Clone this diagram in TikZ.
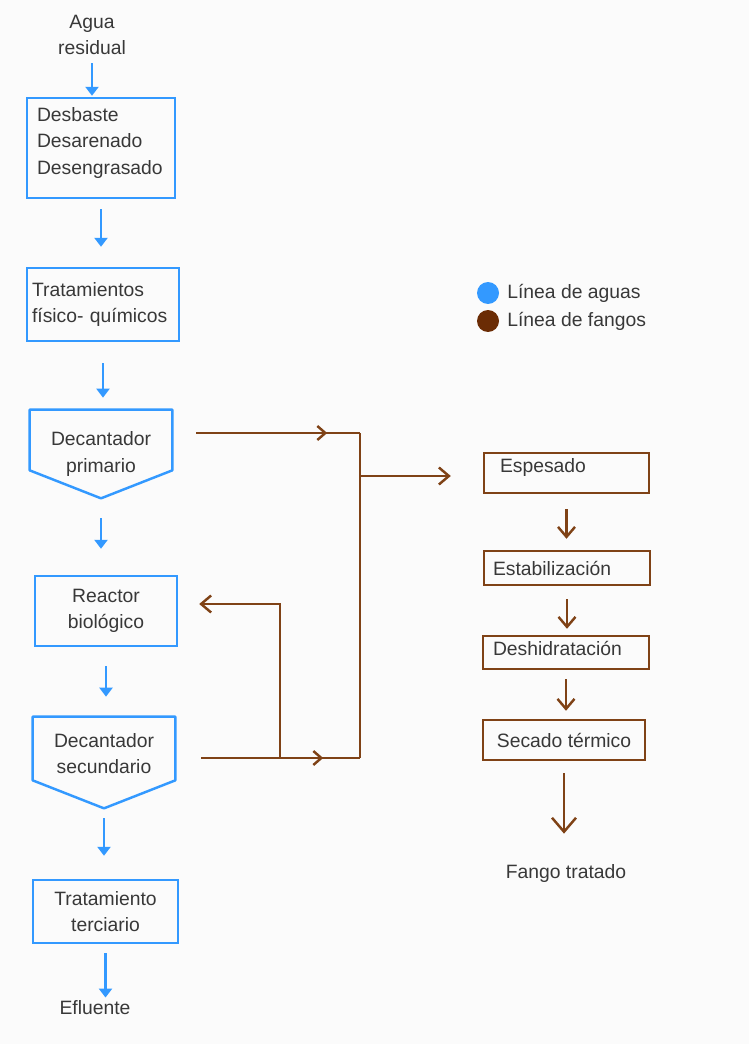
\documentclass[tikz,border=0pt]{standalone}
\usepackage{fontspec}
\setmainfont{Liberation Sans}
\usetikzlibrary{arrows.meta,calc,decorations.markings}
\definecolor{agua}{HTML}{3399FF}
\definecolor{fango}{HTML}{7F4216}
\definecolor{fangopunto}{HTML}{6B2C05}
\definecolor{texto}{HTML}{383838}
\definecolor{fondo}{HTML}{FBFBFB}

\begin{document}
\begin{tikzpicture}[x=0.02cm,y=0.02cm,
	font=\fontsize{11}{15}\selectfont, text=texto,
	cajaagua/.style={draw=agua,line width=1.4pt,rectangle,inner ysep=0pt},
	cajafango/.style={draw=fango,line width=1.4pt,rectangle,inner ysep=0pt},
	flechaagua/.style={draw=agua,line width=1.4pt,-{Triangle[length=1.8mm,width=2.6mm]}},
	lineafango/.style={draw=fango,line width=1.4pt},
	flechafango/.style={lineafango,-{Straight Barb[length=2mm,width=3.4mm]}},
	mitad/.style={postaction={decorate},decoration={markings,
		mark=at position #1 with {\arrow{Straight Barb[length=1.6mm,width=2.8mm]}}}},
	punto/.style={circle,inner sep=0pt,minimum size=4.4mm}]
	\fill[fondo] (0,0) rectangle (749,-1044);
	\useasboundingbox (0,0) rectangle (749,-1044);

	% linea de aguas
	\node[align=center,inner sep=0pt] (agua) at (92,-35) {Agua\\residual};
	\node[cajaagua,minimum width=29.6mm,minimum height=20mm,inner xsep=2mm,
		text width=25.6mm,align=left,text height=8pt,text depth=38pt] (desbaste) at (101,-148)
		{Desbaste\\Desarenado\\Desengrasado};
	\node[cajaagua,minimum width=30.4mm,minimum height=14.6mm,inner xsep=1mm,
		text width=28.4mm,align=left] (fisquim) at (103,-304.5)
		{Tratamientos\\físico- químicos};
	\node[minimum width=28.4mm,minimum height=17.6mm,inner sep=0pt,align=center] (decprim) at (101,-454)
		{Decantador\\primario};
	\draw[agua,line width=1.4pt,line join=round] (decprim.north west) -- (decprim.north east)
		-- ($(decprim.south east)+(0,28)$) -- (decprim.south) -- ($(decprim.south west)+(0,28)$) -- cycle;
	\node[cajaagua,minimum width=28.4mm,minimum height=14mm,align=center] (reactor) at (106,-611)
		{Reactor\\biológico};
	\node[minimum width=28.4mm,minimum height=18.2mm,inner sep=0pt,align=center,text depth=10pt] (decsec) at (104,-762.5)
		{Decantador\\secundario};
	\draw[agua,line width=1.4pt,line join=round] (decsec.north west) -- (decsec.north east)
		-- ($(decsec.south east)+(0,28)$) -- (decsec.south) -- ($(decsec.south west)+(0,28)$) -- cycle;
	\node[cajaagua,minimum width=29mm,minimum height=12.6mm,align=center] (terciario) at (105.5,-911.5)
		{Tratamiento\\terciario};
	\node[inner sep=0pt] (efluente) at (95,-1008) {Efluente};

	\draw[flechaagua,shorten <=1.6mm,shorten >=0.2mm] (agua.south) -- (agua.south |- desbaste.north);
	\draw[flechaagua,shorten <=2mm,shorten >=4mm] (desbaste.south) -- (desbaste.south |- fisquim.north);
	\draw[flechaagua,shorten <=4.2mm,shorten >=2.4mm] (fisquim.south) -- (fisquim.south |- decprim.north);
	\draw[flechaagua,shorten <=4mm,shorten >=5.2mm] (decprim.south) -- (decprim.south |- reactor.north);
	\draw[flechaagua,shorten <=3.8mm,shorten >=4mm] (reactor.south) -- (reactor.south |- decsec.north);
	\draw[flechaagua,shorten <=2mm,shorten >=4.6mm] (decsec.south) -- (decsec.south |- terciario.north);
	\draw[flechaagua,shorten <=1.8mm,shorten >=0.6mm] (terciario.south) -- (terciario.south |- efluente.north);

	% linea de fangos
	\node[cajafango,minimum width=33mm,minimum height=8mm,inner xsep=3.2mm,
		text width=26.6mm,align=left,text depth=8pt] (espesado) at (566.5,-473) {Espesado};
	\node[cajafango,minimum width=33.2mm,minimum height=6.8mm,inner xsep=1.8mm,
		text width=29.6mm,align=left] (estab) at (567,-568) {Estabilización};
	\node[cajafango,minimum width=33.2mm,minimum height=6.6mm,inner xsep=2mm,
		text width=29.2mm,align=left,text depth=5pt] (deshid) at (566,-652.5) {Deshidratación};
	\node[cajafango,minimum width=32.4mm,minimum height=8mm] (secado) at (564,-740) {Secado térmico};
	\node[inner sep=0pt] (fango) at (566,-873) {Fango tratado};

	\draw[flechafango,shorten <=3mm,shorten >=2.2mm] (espesado.south) -- (espesado.south |- estab.north);
	\draw[flechafango,shorten <=2.6mm,shorten >=1.2mm] (estab.south) -- (estab.south |- deshid.north);
	\draw[flechafango,shorten <=1.8mm,shorten >=1.6mm] (deshid.south) -- (deshid.south |- secado.north);
	\draw[lineafango,-{Straight Barb[length=2.8mm,width=4.8mm]},shorten <=2.4mm,shorten >=6mm]
		(secado.south) -- (secado.south |- fango.north);

	\coordinate (dpsal) at (196,-433);
	\coordinate (dssal) at (201,-758);
	\coordinate (j1) at (360,-433);
	\coordinate (j2) at (360,-758);
	\coordinate (j3) at (280,-758);
	\coordinate (j4) at (280,-604);
	\coordinate (jesp) at (360,-476);
	\draw[lineafango,mitad=0.8] (dpsal) -- (j1);
	\draw[lineafango] (j1) -- (j2);
	\draw[lineafango] (dssal) -- (j3);
	\draw[lineafango,mitad=0.54] (j3) -- (j2);
	\draw[flechafango,shorten >=4.2mm] (j3) -- (j4) -- (j4 -| reactor.east);
	\draw[flechafango,shorten >=6.4mm] (jesp) -- (jesp -| espesado.west);

	% leyenda
	\node[punto,fill=agua] (leyagua) at (488,-293) {};
	\node[punto,fill=fangopunto] (leyfango) at (488,-321) {};
	\node[anchor=west,inner sep=0pt] (txtagua) at (507,-293) {Línea de aguas};
	\node[anchor=west,inner sep=0pt] (txtfango) at (507,-321) {Línea de fangos};
\end{tikzpicture}
\end{document}
